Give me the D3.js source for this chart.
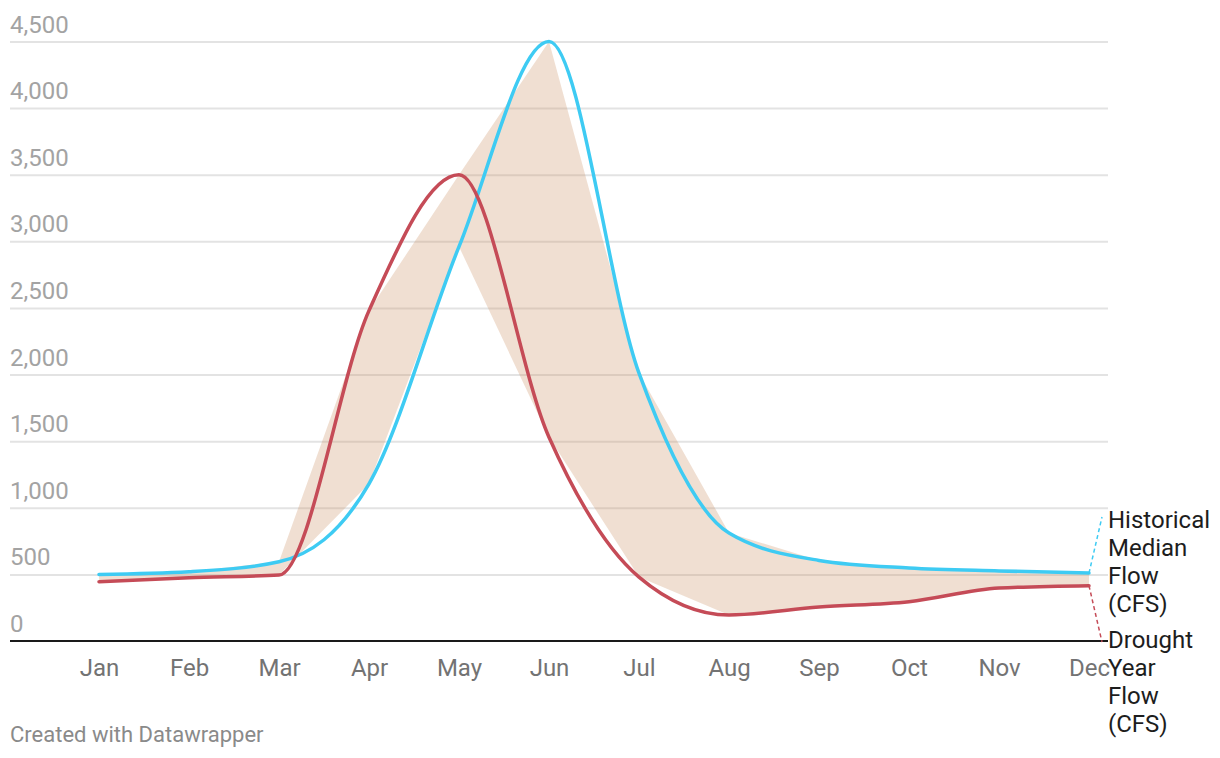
<!DOCTYPE html>
<html><head><meta charset="utf-8">
<script src="https://cdn.jsdelivr.net/npm/d3@7"></script>
<style>body{margin:0;background:#fff;font-family:Roboto,"Noto Sans",sans-serif}</style>
</head><body><svg id="c" width="1220" height="758"></svg>
<script>
const months = ["Jan","Feb","Mar","Apr","May","Jun","Jul","Aug","Sep","Oct","Nov","Dec"];
const historical = [500,520,595,1180,2960,4500,2010,810,605,548,526,510];
const drought = [445,475,495,2480,3500,1530,480,195,255,295,397,415];
const yTicks = [0,500,1000,1500,2000,2500,3000,3500,4000,4500];
const labelHistorical = ["Historical","Median","Flow","(CFS)"];
const labelDrought = ["Drought","Year","Flow","(CFS)"];
const credit = "Created with Datawrapper";

const svg = d3.select("#c");
const x = d3.scalePoint().domain(months).range([99,1089]);
const y = d3.scaleLinear().domain([0,4500]).range([641,41.5]);
const left = 10, right = 1108;
const font = "Roboto, 'Noto Sans', sans-serif";

// gridlines
const gy = svg.append("g").attr("transform",`translate(${right},0)`);
gy.call(d3.axisRight(y).tickValues(yTicks.filter(d=>d>0)).tickSize(-(right-left)).tickFormat(""));
gy.select(".domain").remove();
gy.selectAll("line").attr("stroke","#e3e3e3").attr("stroke-width",2);

svg.append("g").selectAll("text").data(yTicks).join("text")
  .attr("x",left).attr("y",d=>y(d)-9)
  .attr("font-family",font).attr("font-size",24).attr("fill","#a3a3a3")
  .text(d=>d3.format(",")(d));

// range area
const rows = months.map((m,i)=>({m, hi:Math.max(historical[i],drought[i]), lo:Math.min(historical[i],drought[i])}));
svg.append("path").datum(rows)
  .attr("d", d3.area().x(d=>x(d.m)).y0(d=>y(d.lo)).y1(d=>y(d.hi)).curve(d3.curveLinear))
  .attr("fill","rgb(205,148,105)").attr("fill-opacity",0.3);

// x axis
const gx = svg.append("g").attr("transform",`translate(0,${y(0)})`);
gx.call(d3.axisBottom(x).tickSize(0).tickPadding(0));
gx.select(".domain").remove();
gx.selectAll("text").attr("dy",null).attr("y",35).attr("font-family",font).attr("font-size",24).attr("fill","#737373");
svg.append("line").attr("x1",left).attr("x2",right).attr("y1",y(0)).attr("y2",y(0))
  .attr("stroke","#1a1a1a").attr("stroke-width",2);

// lines
const line = d3.line().x((d,i)=>x(months[i])).y(d=>y(d)).curve(d3.curveMonotoneX);
svg.append("path").datum(historical).attr("d",line).attr("fill","none")
  .attr("stroke","#3ecbf3").attr("stroke-width",3.5).attr("stroke-linejoin","round").attr("stroke-linecap","round");
svg.append("path").datum(drought).attr("d",line).attr("fill","none")
  .attr("stroke","#c54b57").attr("stroke-width",3.5).attr("stroke-linejoin","round").attr("stroke-linecap","round");

// labels
function lineLabel(lines, yEnd, color, firstBase, connY){
  const xe = x("Dec");
  svg.append("line").attr("x1",xe).attr("y1",y(yEnd)).attr("x2",1102).attr("y2",connY)
    .attr("stroke",color).attr("stroke-width",1.5).attr("stroke-dasharray","4,3");
  svg.append("g").selectAll("text").data(lines).join("text")
    .attr("x",1108).attr("y",(d,i)=>firstBase+i*28)
    .attr("font-family",font).attr("font-size",24).attr("fill","#1d1d1d").text(d=>d);
}
lineLabel(labelHistorical, historical[11], "#3ecbf3", 528, 517);
lineLabel(labelDrought, drought[11], "#c54b57", 648, 642);

svg.append("text").attr("x",left).attr("y",742).attr("font-family",font).attr("font-size",22)
  .attr("fill","#8a8a8a").text(credit);
</script></body></html>
